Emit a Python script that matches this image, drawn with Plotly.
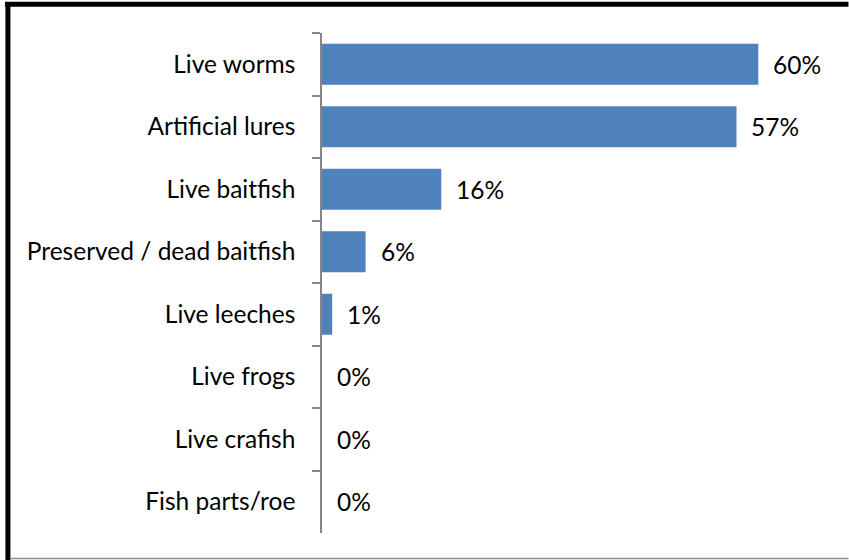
import plotly.graph_objects as go

categories = ["Live worms", "Artificial lures", "Live baitfish", "Preserved / dead baitfish",
              "Live leeches", "Live frogs", "Live crafish", "Fish parts/roe"]
values = [60, 57, 16.4, 6, 1.4, 0, 0, 0]
value_labels = ["60%", "57%", "16%", "6%", "1%", "0%", "0%", "0%"]

W, H = 849, 560
L, R, T, B = 321.5, 831.5, 33, 533

FONT = "Lato"
FS = 24.5

fig = go.Figure(go.Bar(
    y=categories, x=values, orientation="h",
    marker=dict(color="#4F81BD", line=dict(width=0)),
    hoverinfo="skip",
))

for c, v, t in zip(categories, values, value_labels):
    fig.add_annotation(x=v, y=c, text=t, showarrow=False, xanchor="left",
                       xshift=13, font=dict(size=FS, color="#000000", family=FONT))

def px(x):
    return (x - L) / (R - L)

def py(y):
    return (B - y) / (B - T)

shapes = [
    dict(type="line", xref="paper", yref="paper", x0=px(4), x1=px(849), y0=py(4.2), y1=py(4.2),
         line=dict(color="#000000", width=5)),
    dict(type="line", xref="paper", yref="paper", x0=px(6.8), x1=px(6.8), y0=py(2), y1=py(560),
         line=dict(color="#000000", width=5)),
    dict(type="line", xref="paper", yref="paper", x0=px(9), x1=px(849), y0=py(558.5), y1=py(558.5),
         line=dict(color="#8C8C8C", width=1.5)),
]

fig.update_layout(
    width=W, height=H,
    margin=dict(l=L, r=W - R, t=T, b=H - B),
    paper_bgcolor="white", plot_bgcolor="white",
    bargap=0.344,
    showlegend=False,
    font=dict(family=FONT, size=FS, color="#000000"),
    shapes=shapes,
    xaxis=dict(range=[0, 70], visible=False, fixedrange=True),
    yaxis=dict(
        categoryorder="array", categoryarray=categories, autorange="reversed",
        showline=True, linecolor="#868686", linewidth=1.5,
        ticks="outside", tickson="boundaries", ticklen=8, tickcolor="#868686", tickwidth=1.5,
        ticklabelstandoff=20, showgrid=False, zeroline=False, fixedrange=True,
        tickfont=dict(size=FS, family=FONT, color="#000000"),
    ),
)

fig.write_html("out.html", config={"displayModeBar": False},
               post_script="document.body.style.margin='0';document.body.style.padding='0';")
